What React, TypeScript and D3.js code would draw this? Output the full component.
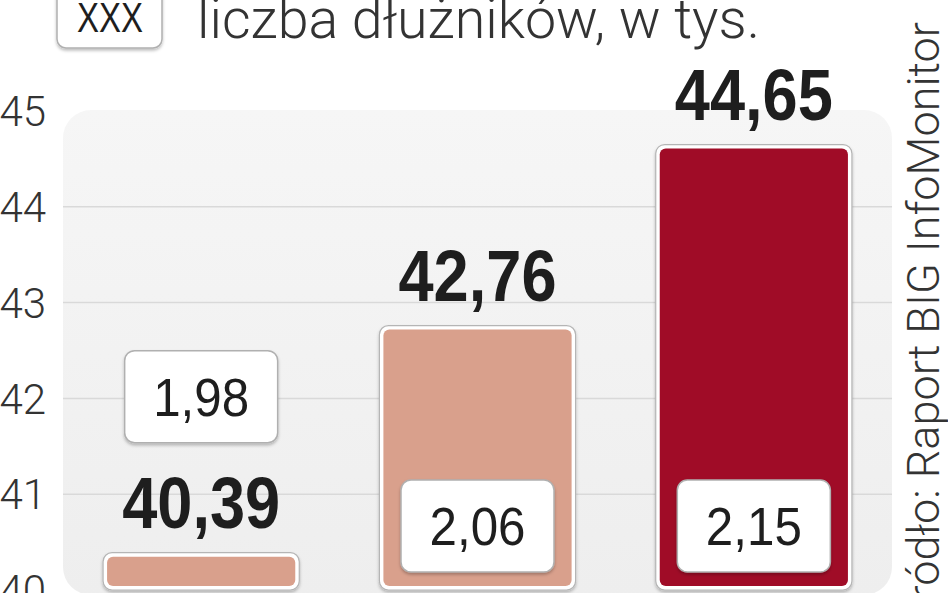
import React, { useEffect, useRef } from 'react';
import * as d3 from 'd3';

// dane z wykresu
const periods = ['I', 'II', 'III'];
const debtors = [40.39, 42.76, 44.65];
const debtValues = [1.98, 2.06, 2.15];
const barColors = ['#d9a08c', '#d9a08c', '#a00c27'];
const yTicks = [40, 41, 42, 43, 44, 45];
const legendLabel = 'XXX';
const title = 'liczba dłużników, w tys.';
const source = 'Źródło: Raport BIG InfoMonitor';

const fmt = (v: number) => v.toFixed(2).replace('.', ',');

const narrow = '"Liberation Sans", Arial, sans-serif';
const light = 'Roboto, sans-serif';

function App() {
  const chartRef = useRef<SVGSVGElement | null>(null);

  useEffect(() => {
    if (chartRef.current) {
      createChart();
    }
  }, []);

  const createChart = () => {
    const svg = d3.select(chartRef.current);
    svg.selectAll('*').remove();

    const width = 948;
    const height = 593;
    const panel = { left: 63, right: 892, top: 110 };

    const x = d3
      .scaleBand()
      .domain(periods)
      .range([panel.left, panel.right])
      .paddingInner(0.29)
      .paddingOuter(0.145);

    const y = d3.scaleLinear().domain([40, 45]).range([590, 111]);

    const defs = svg.append('defs');
    const grad = defs
      .append('linearGradient')
      .attr('id', 'panelGrad')
      .attr('x1', 0)
      .attr('y1', 0)
      .attr('x2', 0)
      .attr('y2', 1);
    grad.append('stop').attr('offset', '0%').attr('stop-color', '#f6f6f6');
    grad.append('stop').attr('offset', '100%').attr('stop-color', '#eeeeee');

    const shadow = defs
      .append('filter')
      .attr('id', 'boxShadow')
      .attr('x', '-20%')
      .attr('y', '-20%')
      .attr('width', '140%')
      .attr('height', '140%');
    shadow
      .append('feDropShadow')
      .attr('dx', 0)
      .attr('dy', 2)
      .attr('stdDeviation', 1.5)
      .attr('flood-color', '#000')
      .attr('flood-opacity', 0.25);

    svg
      .append('rect')
      .attr('width', width)
      .attr('height', height)
      .attr('fill', '#ffffff');

    // tło wykresu
    svg
      .append('rect')
      .attr('x', panel.left)
      .attr('y', panel.top)
      .attr('width', panel.right - panel.left)
      .attr('height', 485)
      .attr('rx', 28)
      .attr('fill', 'url(#panelGrad)');

    // linie siatki
    svg
      .append('g')
      .selectAll('line')
      .data(yTicks.filter((t) => t > 40 && t < 45))
      .enter()
      .append('line')
      .attr('x1', panel.left)
      .attr('x2', panel.right)
      .attr('y1', (d) => y(d))
      .attr('y2', (d) => y(d))
      .attr('stroke', '#d9d9d9')
      .attr('stroke-width', 1.5);

    // oś Y
    svg
      .append('g')
      .selectAll('text')
      .data(yTicks)
      .enter()
      .append('text')
      .attr('x', 46)
      .attr('y', (d) => y(d))
      .attr('dy', '0.36em')
      .attr('text-anchor', 'end')
      .attr('font-family', light)
      .attr('font-weight', 300)
      .attr('font-size', 42)
      .attr('fill', '#333')
      .text((d) => d);

    // słupki
    const bars = svg
      .append('g')
      .selectAll('g')
      .data(debtors)
      .enter()
      .append('g');

    bars
      .append('rect')
      .attr('x', (d, i) => x(periods[i]))
      .attr('y', (d) => y(d))
      .attr('width', x.bandwidth())
      .attr('height', (d) => y(40) - y(d))
      .attr('rx', 9)
      .attr('fill', '#ffffff')
      .attr('stroke', '#b5b5b5')
      .attr('stroke-width', 1.2)
      .attr('filter', 'url(#boxShadow)');

    bars
      .append('rect')
      .attr('x', (d, i) => x(periods[i]) + 4)
      .attr('y', (d) => y(d) + 4)
      .attr('width', x.bandwidth() - 8)
      .attr('height', (d) => y(40) - y(d) - 8)
      .attr('rx', 6)
      .attr('fill', (d, i) => barColors[i]);

    // wartości
    bars
      .append('text')
      .attr('x', (d, i) => x(periods[i]) + x.bandwidth() / 2)
      .attr('y', (d) => y(d) - 25)
      .attr('text-anchor', 'middle')
      .attr('font-family', narrow)
      .attr('font-weight', 700)
      .attr('font-size', 72)
      .attr('textLength', 158)
      .attr('lengthAdjust', 'spacingAndGlyphs')
      .attr('fill', '#1e1e1e')
      .text((d) => fmt(d));

    // ramki z kwotą
    const boxW = 153;
    const boxH = 92;
    const boxY = (d: number) =>
      y(40) - y(d) < 150 ? y(d) - 110 - boxH : y(40) - 18 - boxH;

    const boxes = bars.append('g');
    boxes
      .append('rect')
      .attr('x', (d, i) => x(periods[i]) + x.bandwidth() / 2 - boxW / 2)
      .attr('y', (d) => boxY(d))
      .attr('width', boxW)
      .attr('height', boxH)
      .attr('rx', 10)
      .attr('fill', '#ffffff')
      .attr('stroke', '#b0b0b0')
      .attr('stroke-width', 1.5)
      .attr('filter', 'url(#boxShadow)');

    boxes
      .append('text')
      .attr('x', (d, i) => x(periods[i]) + x.bandwidth() / 2)
      .attr('y', (d) => boxY(d) + boxH / 2 + 19)
      .attr('text-anchor', 'middle')
      .attr('font-family', narrow)
      .attr('font-size', 54)
      .attr('textLength', 96)
      .attr('lengthAdjust', 'spacingAndGlyphs')
      .attr('fill', '#1e1e1e')
      .text((d, i) => fmt(debtValues[i]));

    // legenda
    const legend = svg.append('g');
    legend
      .append('rect')
      .attr('x', 57)
      .attr('y', -20)
      .attr('width', 105)
      .attr('height', 68)
      .attr('rx', 9)
      .attr('fill', '#ffffff')
      .attr('stroke', '#b0b0b0')
      .attr('stroke-width', 1.5)
      .attr('filter', 'url(#boxShadow)');
    legend
      .append('text')
      .attr('x', 110)
      .attr('y', 32)
      .attr('text-anchor', 'middle')
      .attr('font-family', narrow)
      .attr('font-size', 42)
      .attr('textLength', 66)
      .attr('lengthAdjust', 'spacingAndGlyphs')
      .attr('fill', '#1e1e1e')
      .text(legendLabel);
    legend
      .append('text')
      .attr('x', 197)
      .attr('y', 38)
      .attr('font-family', light)
      .attr('font-weight', 300)
      .attr('font-size', 56)
      .attr('textLength', 563)
      .attr('lengthAdjust', 'spacingAndGlyphs')
      .attr('fill', '#333')
      .text(title);

    // źródło
    svg
      .append('text')
      .attr('transform', 'translate(939,22) rotate(-90)')
      .attr('text-anchor', 'end')
      .attr('font-family', light)
      .attr('font-weight', 300)
      .attr('font-size', 45)
      .attr('fill', '#333')
      .text(source);
  };

  return (
    <svg
      ref={chartRef}
      width={948}
      height={593}
      style={{ position: 'absolute', left: 0, top: 0 }}
    />
  );
}

export default App;
